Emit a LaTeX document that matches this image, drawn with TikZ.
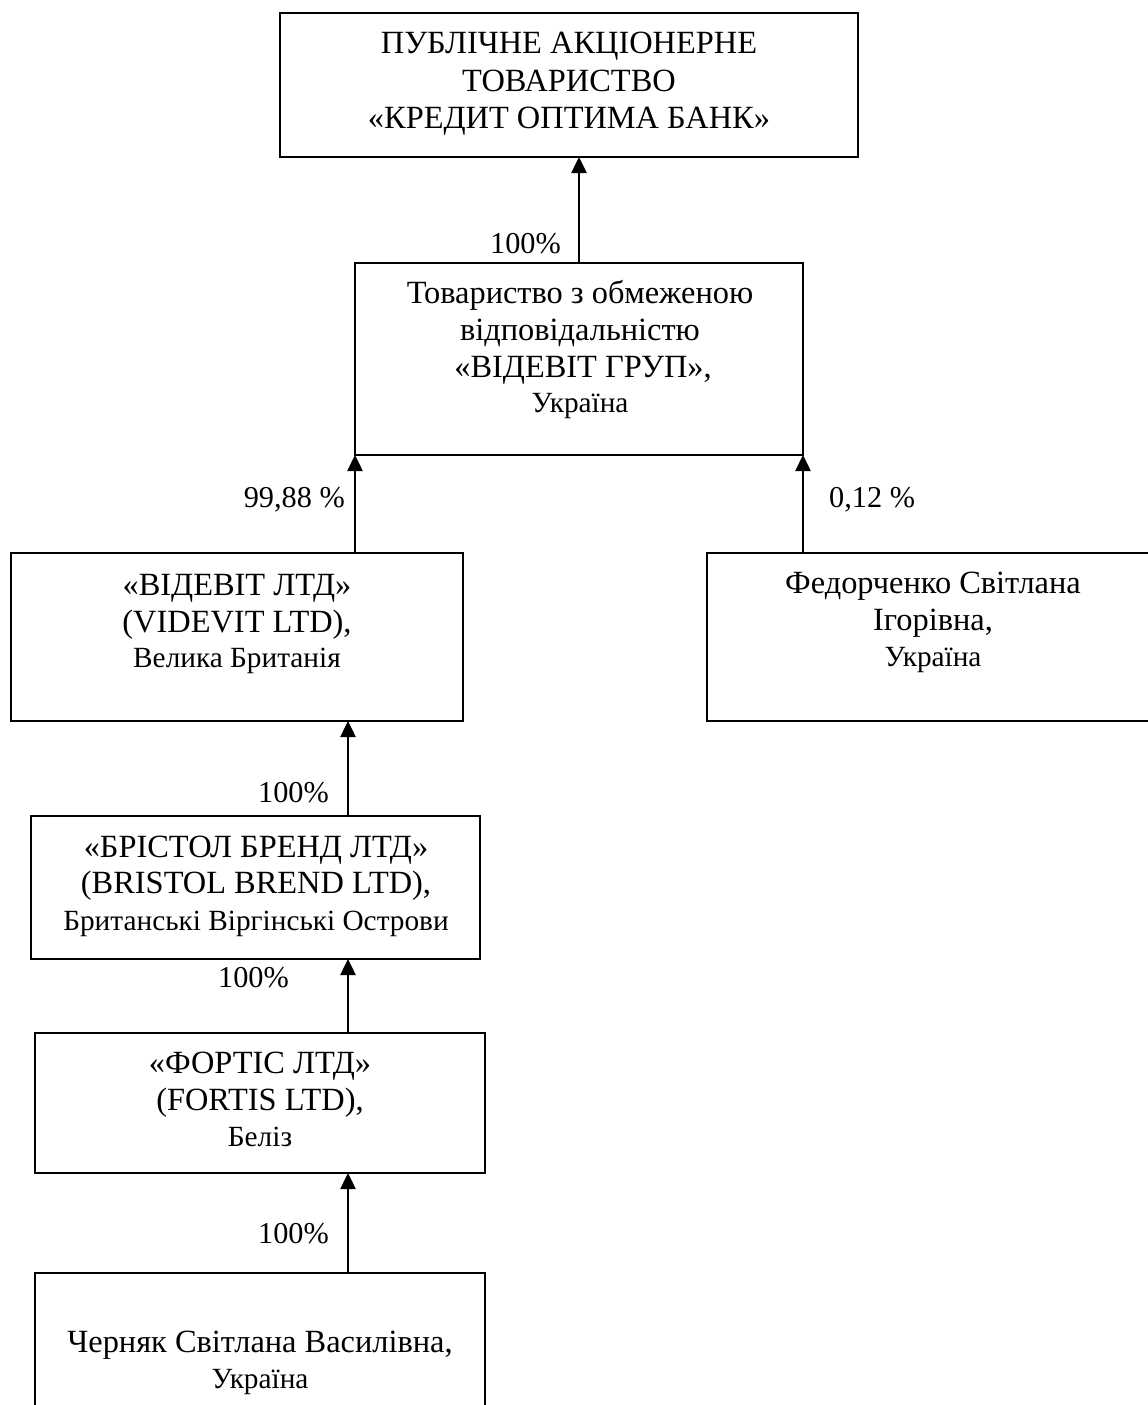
\documentclass[tikz,border=0pt]{standalone}
\usepackage{fontspec}
\setmainfont{Liberation Serif}
\usetikzlibrary{arrows.meta,calc}
\newcommand{\bigtxt}{\fontsize{32.4}{37}\selectfont}
\newcommand{\smalltxt}{\fontsize{29.3}{37}\selectfont}
\newcommand{\lbltxt}{\fontsize{30.3}{37}\selectfont}
\begin{document}
\begin{tikzpicture}[x=1pt,y=-1pt,
  box/.style={draw, line width=2pt, inner sep=0pt, outer sep=0pt, anchor=north west},
  txt/.style={anchor=base, inner sep=0pt, font=\bigtxt},
  stxt/.style={anchor=base, inner sep=0pt, font=\smalltxt},
  lbl/.style={inner sep=0pt, font=\lbltxt},
  arr/.style={line width=2.5pt, -{Triangle[length=16pt,width=15pt]}}
]
\useasboundingbox (0,0) rectangle (1148,1405);
\clip (0,0) rectangle (1148,1405);

% boxes
\node[box, minimum width=578pt, minimum height=144pt] (b1) at (280,13) {};
\node[box, minimum width=448pt, minimum height=192pt] (b2) at (355,263) {};
\node[box, minimum width=452pt, minimum height=168pt] (b3) at (11,553) {};
\node[box, minimum width=452pt, minimum height=168pt] (b4) at (707,553) {};
\node[box, minimum width=449pt, minimum height=143pt] (b5) at (31,816) {};
\node[box, minimum width=450pt, minimum height=140pt] (b6) at (35,1033) {};
\node[box, minimum width=450pt, minimum height=160pt] (b7) at (35,1273) {};

% texts
\node[txt] (t1a) at (569,54) {ПУБЛІЧНЕ АКЦІОНЕРНЕ};
\node[txt] (t1b) at (569,91) {ТОВАРИСТВО};
\node[txt] (t1c) at (569,128) {«КРЕДИТ ОПТИМА БАНК»};

\node[txt] (t2a) at (580,303) {Товариство з обмеженою};
\node[txt] (t2b) at (580,340) {відповідальністю};
\node[txt] (t2c) at (583,377) {«ВІДЕВІТ ГРУП»,};
\node[stxt] (t2d) at (580,412) {Україна};

\node[txt] (t3a) at (237,595) {«ВІДЕВІТ ЛТД»};
\node[txt] (t3b) at (237,632) {(VIDEVIT LTD),};
\node[stxt] (t3c) at (237,667) {Велика Британія};

\node[txt] (t4a) at (933,593) {Федорченко Світлана};
\node[txt] (t4b) at (933,630) {Ігорівна,};
\node[stxt] (t4c) at (933,666) {Україна};

\node[txt] (t5a) at (256,857) {«БРІСТОЛ БРЕНД ЛТД»};
\node[txt] (t5b) at (256,893) {(BRISTOL BREND LTD),};
\node[stxt] (t5c) at (256,930) {Британські Віргінські Острови};

\node[txt] (t6a) at (260,1073) {«ФОРТІС ЛТД»};
\node[txt] (t6b) at (260,1110) {(FORTIS LTD),};
\node[stxt] (t6c) at (260,1146) {Беліз};

\node[txt] (t7a) at (260,1352) {Черняк Світлана Василівна,};
\node[stxt] (t7b) at (260,1388) {Україна};

% connectors
\coordinate (spine) at (348,0);
\draw[arr] (b2.north -| 579,0) -- (b1.south -| 579,0);
\draw[arr] (b2.south west |- b3.north) -- (b2.south west);
\draw[arr] (b2.south east |- b4.north) -- (b2.south east);
\draw[arr] (spine |- b5.north) -- (spine |- b3.south);
\draw[arr] (spine |- b6.north) -- (spine |- b5.south);
\draw[arr] (spine |- b7.north) -- (spine |- b6.south);

% labels
\node[lbl, anchor=base east] (l1) at (561,253) {100\%};
\node[lbl, anchor=base east] (l2) at (345,507) {99,88 \%};
\node[lbl, anchor=base west] (l3) at (829,507) {0,12 \%};
\node[lbl, anchor=base east] (l4) at (329,802) {100\%};
\node[lbl, anchor=base east] (l5) at (289,987) {100\%};
\node[lbl, anchor=base east] (l6) at (329,1243) {100\%};
\end{tikzpicture}
\end{document}
